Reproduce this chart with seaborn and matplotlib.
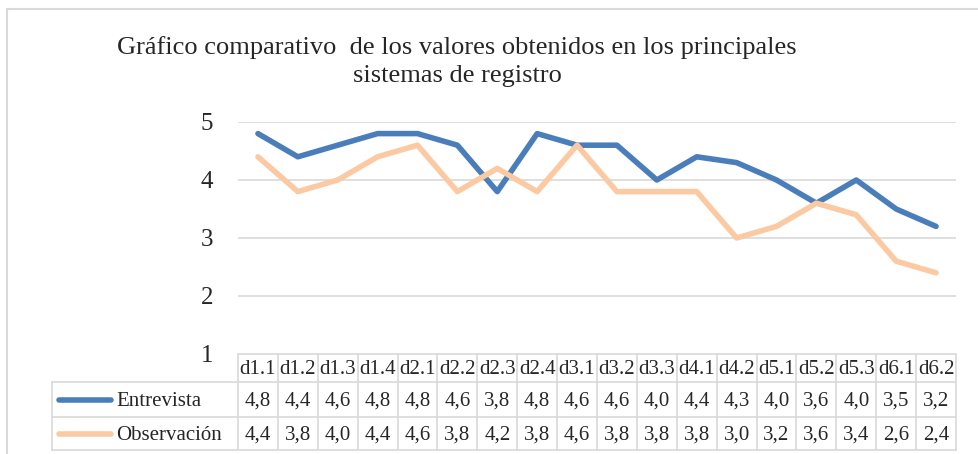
import matplotlib
matplotlib.use("Agg")
import matplotlib.pyplot as plt
from matplotlib.lines import Line2D
import seaborn as sns
import pandas as pd

# datos del cuadro
categorias = ["d1.1", "d1.2", "d1.3", "d1.4", "d2.1", "d2.2", "d2.3", "d2.4", "d3.1",
              "d3.2", "d3.3", "d4.1", "d4.2", "d5.1", "d5.2", "d5.3", "d6.1", "d6.2"]
entrevista = [4.8, 4.4, 4.6, 4.8, 4.8, 4.6, 3.8, 4.8, 4.6, 4.6, 4.0, 4.4, 4.3, 4.0, 3.6, 4.0, 3.5, 3.2]
observacion = [4.4, 3.8, 4.0, 4.4, 4.6, 3.8, 4.2, 3.8, 4.6, 3.8, 3.8, 3.8, 3.0, 3.2, 3.6, 3.4, 2.6, 2.4]
series = ["Entrevista", "Observación"]
colores = ["#4a7ebb", "#fbcaa3"]

df = pd.DataFrame({"x": list(range(len(categorias))) * 2,
                   "valor": entrevista + observacion,
                   "serie": [series[0]] * len(categorias) + [series[1]] * len(categorias)})

sns.set_style("white")
plt.rcParams["font.family"] = ["Liberation Serif", "DejaVu Serif"]

W, H = 979, 454
fig = plt.figure(figsize=(W / 100, H / 100), dpi=100)

def fx(px):
    return px / W

def fy(py):
    return 1 - py / H

ax = fig.add_axes([fx(238), fy(354), fx(956) - fx(238), fy(122) - fy(354)])
sns.lineplot(data=df, x="x", y="valor", hue="serie", palette=colores, linewidth=4,
             legend=False, ax=ax, zorder=3)
ax.set_xlim(-0.5, len(categorias) - 0.5)
ax.set_ylim(1, 5)
ax.set_yticks([1, 2, 3, 4, 5])
ax.set_xticks([])
ax.set_xlabel("")
ax.set_ylabel("")
for y in [2, 3, 4, 5]:
    ax.axhline(y, color="#d9d9d9", lw=1.2, zorder=1)
for s in ax.spines.values():
    s.set_visible(False)
ax.tick_params(axis="y", length=0, pad=18, labelsize=18)

# titulo
fig.text(fx(457), fy(48), "Gráfico comparativo  de los valores obtenidos en los principales",
         ha="center", va="center", fontsize=19)
fig.text(fx(457), fy(76), "sistemas de registro", ha="center", va="center", fontsize=19)

# tabla de datos
gris = "#d9d9d9"
x0, x1 = 238, 956
ancho = (x1 - x0) / len(categorias)
filas = [354, 382, 417, 450]
lineas = []
# bordes horizontales
lineas.append(([x0, x1], [filas[0], filas[0]]))
for yy in filas[1:]:
    lineas.append(([52, x1], [yy, yy]))
# bordes verticales
lineas.append(([52, 52], [filas[1], filas[3]]))
for i in range(len(categorias) + 1):
    xx = x0 + i * ancho
    lineas.append(([xx, xx], [filas[0], filas[3]]))
for xs, ys in lineas:
    fig.add_artist(Line2D([fx(v) for v in xs], [fy(v) for v in ys], color=gris, lw=1.2))

for i, c in enumerate(categorias):
    cx = fx(x0 + (i + 0.5) * ancho)
    fig.text(cx, fy(370), c, ha="center", va="center", fontsize=15)
    fig.text(cx, fy(401), f"{entrevista[i]:.1f}".replace(".", ","), ha="center", va="center", fontsize=15)
    fig.text(cx, fy(435), f"{observacion[i]:.1f}".replace(".", ","), ha="center", va="center", fontsize=15)

for nombre, col, yy in zip(series, colores, [400, 434]):
    fig.add_artist(Line2D([fx(59), fx(111)], [fy(yy), fy(yy)], color=col, lw=4,
                          solid_capstyle="round"))
    fig.text(fx(116), fy(yy + 1), nombre, ha="left", va="center", fontsize=15)

# marco exterior
fig.add_artist(Line2D([fx(7), fx(7)], [fy(9), fy(454)], color=gris, lw=1.5))
fig.add_artist(Line2D([fx(7), fx(979)], [fy(9), fy(9)], color=gris, lw=1.5))

fig.savefig("out.png", dpi=100)
